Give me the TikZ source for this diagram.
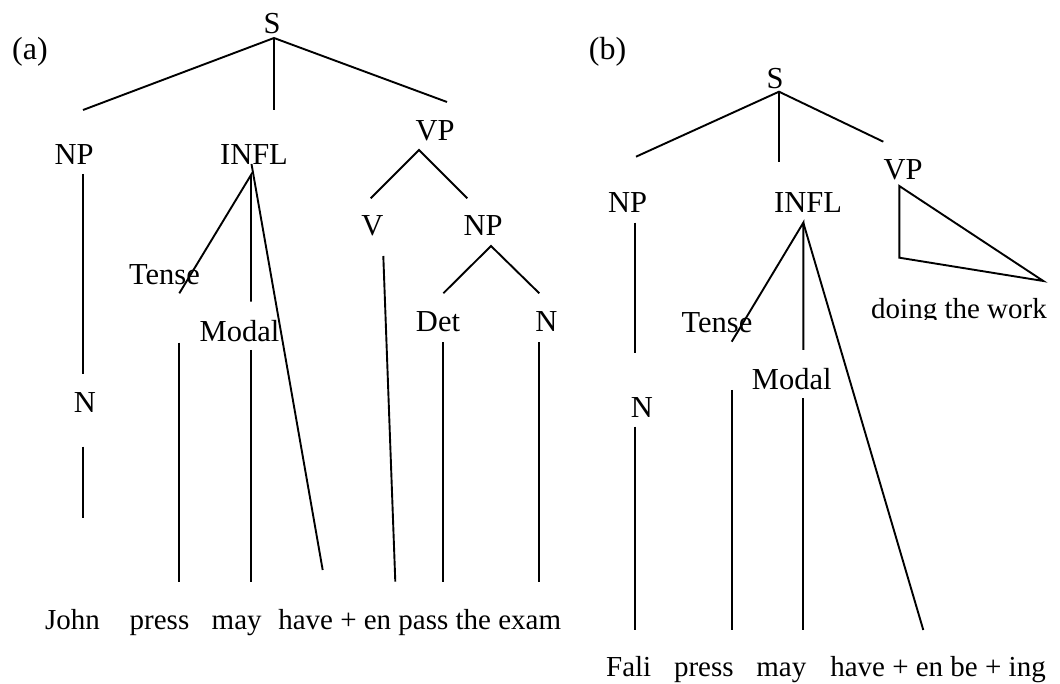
\documentclass[tikz,border=0pt]{standalone}
\usepackage{fontspec}
\setmainfont{Liberation Serif}
\begin{document}
\begin{tikzpicture}[x=1pt,y=-1pt,
  lab/.style={anchor=base,inner sep=0pt,outer sep=0pt,font=\fontsize{30.5}{36}\selectfont},
  tag/.style={anchor=base,inner sep=0pt,outer sep=0pt,font=\fontsize{32}{38}\selectfont},
  word/.style={anchor=base,inner sep=0pt,outer sep=0pt,font=\fontsize{29}{34}\selectfont},
  branch/.style={line width=1.9pt}]
\useasboundingbox (0,0) rectangle (1060,684);

% ---------------- tree (a) ----------------
\node[tag] (a-tag)   at (30,60)      {(a)};
\node[lab] (a-S)     at (272,33.3)   {S};
\node[lab] (a-NP)    at (74,165)     {NP};
\node[lab] (a-INFL)  at (254,165)    {INFL};
\node[lab] (a-VP)    at (435,140.7)  {VP};
\node[lab] (a-V)     at (372.5,236)  {V};
\node[lab] (a-NP2)   at (483,236)    {NP};
\node[lab] (a-Tense) at (164.5,285)  {Tense};
\node[lab] (a-Modal) at (239.5,341.7){Modal};
\node[lab] (a-Det)   at (438,332)    {Det};
\node[lab] (a-N2)    at (546.5,332)  {N};
\node[lab] (a-N1)    at (85,413)     {N};
\node[word] (a-john)  at (72.5,629.3)  {John};
\node[word] (a-press) at (159.5,629.3) {press};
\node[word] (a-may)   at (236.7,629.3) {may};
\node[word] (a-rest)  at (419.7,629.3) {have + en pass the exam};

% branch end points of tree (a)
\coordinate (a-s0)  at (274,38);
\coordinate (a-s1)  at (83,110);
\coordinate (a-s2)  at (274,110);
\coordinate (a-s3)  at (447,102);
\coordinate (a-np0) at (83,174);
\coordinate (a-np1) at (83,374);
\coordinate (a-n0)  at (83,446.7);
\coordinate (a-n1)  at (83,518.3);
\coordinate (a-i0)  at (251,175);
\coordinate (a-i1)  at (179.3,293.3);
\coordinate (a-i2)  at (251,301.7);
\coordinate (a-i3)  at (251.5,164);
\coordinate (a-i4)  at (322.7,570);
\coordinate (a-t0)  at (179.3,342.7);
\coordinate (a-t1)  at (179.3,581.7);
\coordinate (a-m0)  at (251,350);
\coordinate (a-m1)  at (251,581.7);
\coordinate (a-vp0) at (419,150);
\coordinate (a-vp1) at (370.7,198.3);
\coordinate (a-vp2) at (467.3,198.3);
\coordinate (a-v0)  at (383.3,256);
\coordinate (a-v1)  at (395.3,581.7);
\coordinate (a-o0)  at (491,246);
\coordinate (a-o1)  at (443.3,293.3);
\coordinate (a-o2)  at (539.3,293.3);
\coordinate (a-d0)  at (443.3,342.3);
\coordinate (a-d1)  at (443.3,581.7);
\coordinate (a-k0)  at (539.3,342.3);
\coordinate (a-k1)  at (539.3,581.7);

\draw[branch] (a-s1) -- (a-s0) -- (a-s3);
\draw[branch] (a-s0) -- (a-s2);
\draw[branch] (a-np0) -- (a-np1);
\draw[branch] (a-n0) -- (a-n1);
\draw[branch] (a-i1) -- (a-i0) -- (a-i2);
\draw[branch] (a-i3) -- (a-i4);
\draw[branch] (a-t0) -- (a-t1);
\draw[branch] (a-m0) -- (a-m1);
\draw[branch] (a-vp1) -- (a-vp0) -- (a-vp2);
\draw[branch] (a-v0) -- (a-v1);
\draw[branch] (a-o1) -- (a-o0) -- (a-o2);
\draw[branch] (a-d0) -- (a-d1);
\draw[branch] (a-k0) -- (a-k1);

% ---------------- tree (b) ----------------
\node[tag] (b-tag)   at (607.5,60)    {(b)};
\node[lab] (b-S)     at (775,89)      {S};
\node[lab] (b-NP)    at (627.5,212.7) {NP};
\node[lab] (b-INFL)  at (808,212.7)   {INFL};
\node[lab] (b-VP)    at (903,180)     {VP};
\node[lab] (b-Tense) at (717,332.7)   {Tense};
\node[lab] (b-Modal) at (791.7,389.3) {Modal};
\node[lab] (b-N)     at (642,417.3)   {N};
\begin{scope}
  \clip (850,280) rectangle (1060,320);
  \node[word] (b-work) at (959,318.3) {doing the work};
\end{scope}
\node[word] (b-fali)  at (628.7,676.7) {Fali};
\node[word] (b-press) at (703.8,676.7) {press};
\node[word] (b-may)   at (781.3,676.7) {may};
\node[word] (b-rest)  at (938,676.7)   {have + en be + ing};

% branch end points of tree (b)
\coordinate (b-s0)  at (779,91.7);
\coordinate (b-s1)  at (636,156.7);
\coordinate (b-s2)  at (779,161.7);
\coordinate (b-s3)  at (883.3,141.7);
\coordinate (b-np0) at (635,222.7);
\coordinate (b-np1) at (635,353.3);
\coordinate (b-n0)  at (635,426.7);
\coordinate (b-n1)  at (635,630);
\coordinate (b-i0)  at (803.3,222.7);
\coordinate (b-i1)  at (731.7,341.7);
\coordinate (b-i2)  at (803.3,350);
\coordinate (b-i3)  at (923.3,630);
\coordinate (b-t0)  at (731.7,390);
\coordinate (b-t1)  at (731.7,630);
\coordinate (b-m0)  at (803.3,398.3);
\coordinate (b-m1)  at (803.3,630);
\coordinate (b-tr0) at (899.3,186);
\coordinate (b-tr1) at (899.3,257.7);
\coordinate (b-tr2) at (1043.3,281);

\draw[branch] (b-s1) -- (b-s0) -- (b-s3);
\draw[branch] (b-s0) -- (b-s2);
\draw[branch] (b-np0) -- (b-np1);
\draw[branch] (b-n0) -- (b-n1);
\draw[branch] (b-i1) -- (b-i0) -- (b-i2);
\draw[branch] (b-i0) -- (b-i3);
\draw[branch] (b-t0) -- (b-t1);
\draw[branch] (b-m0) -- (b-m1);
\draw[branch] (b-tr0) -- (b-tr1) -- (b-tr2) -- cycle;
\end{tikzpicture}
\end{document}
